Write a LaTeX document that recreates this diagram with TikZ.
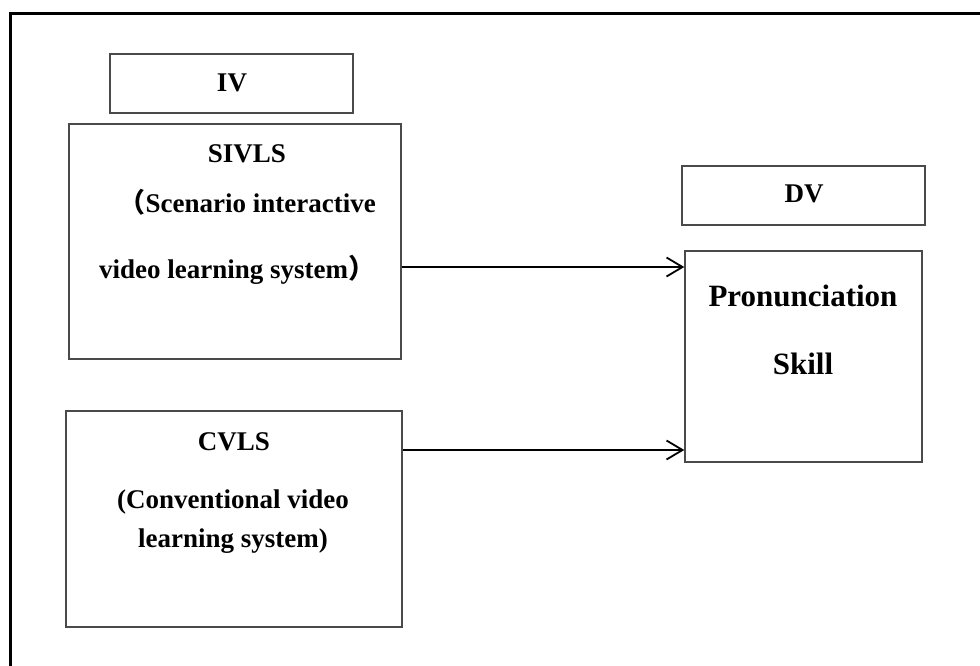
\documentclass[tikz,border=0pt]{standalone}
\usepackage{fontspec}
\setmainfont{Liberation Serif}
\newfontfamily\cjk{Noto Sans CJK SC}
\usetikzlibrary{arrows.meta}
\definecolor{boxgray}{HTML}{4A4A4A}
\tikzset{
  box/.style={draw=boxgray, line width=1.4pt, rectangle, inner sep=0pt},
  lbl/.style={inner sep=0pt, font=\fontsize{27}{32}\selectfont\bfseries, anchor=base},
  biglbl/.style={inner sep=0pt, font=\fontsize{31}{36}\selectfont\bfseries, anchor=base},
  arr/.style={line width=1.8pt, -{Straight Barb[length=16pt,width=19pt,line width=1.8pt]}},
  frame/.style={line width=3pt, black}
}
\begin{document}
\begin{tikzpicture}[x=1pt,y=-1pt]
\useasboundingbox (0,0) rectangle (980,665);
% outer frame (only top and left visible)
\coordinate (ftr) at (990,13);
\coordinate (ftl) at (10,13);
\coordinate (fbl) at (10,675);
\draw[frame] (ftr) -- (ftl) -- (fbl);
% boxes
\node[box, minimum width=243pt, minimum height=59pt] (ivbox) at (231.5,83.5) {};
\node[box, minimum width=332pt, minimum height=235pt] (sivls) at (235,241.5) {};
\node[box, minimum width=336pt, minimum height=216pt] (cvls) at (234,519) {};
\node[box, minimum width=243pt, minimum height=59pt] (dvbox) at (803.5,195.5) {};
\node[box, minimum width=237pt, minimum height=211pt] (pron) at (803.5,356.5) {};
% texts
\node[lbl] (ivt) at (232,91) {IV};
\node[lbl] (dvt) at (804,202) {DV};
\node[lbl] (s1) at (247,162) {SIVLS};
\node[lbl, anchor=base east] (s2) at (376,212) {{\cjk （}Scenario interactive};
\node[lbl, anchor=base west] (s3) at (99,278) {video learning system{\cjk ）}};
\node[lbl] (c1) at (234,450) {CVLS};
\node[lbl] (c2) at (233,508) {(Conventional video};
\node[lbl] (c3) at (233,547) {learning system)};
\node[biglbl] (p1) at (803,306) {Pronunciation};
\node[biglbl] (p2) at (803,374) {Skill};
% arrows
\coordinate (a1s) at (sivls.east |- 0,267);
\coordinate (a1e) at (pron.west |- 0,267);
\coordinate (a2s) at (cvls.east |- 0,450);
\coordinate (a2e) at (pron.west |- 0,450);
\draw[arr] (a1s) -- (a1e);
\draw[arr] (a2s) -- (a2e);
\end{tikzpicture}
\end{document}
